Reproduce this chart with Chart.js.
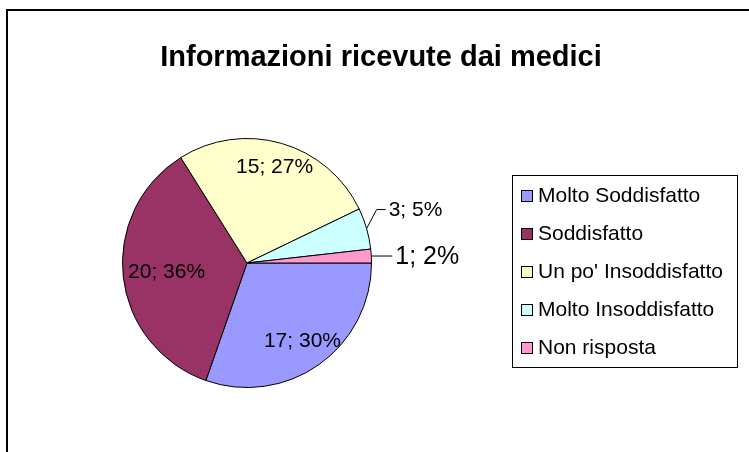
<!DOCTYPE html>
<html>
<head>
<meta charset="utf-8">
<script src="https://cdn.jsdelivr.net/npm/chart.js@4/dist/chart.umd.min.js"></script>
<style>
  html, body { margin: 0; padding: 0; background: #fff; }
  #wrap { position: relative; width: 749px; height: 452px; overflow: hidden; }
  #frame { position: absolute; left: 6px; top: 9px; width: 800px; height: 500px; border: 2px solid #000; box-sizing: border-box; }
  canvas { position: absolute; left: 0; top: 0; }
</style>
</head>
<body>
<div id="wrap">
  <div id="frame"></div>
  <canvas id="chart" width="749" height="452"></canvas>
</div>
<script>
// data
const title = 'Informazioni ricevute dai medici';
const categories = ['Molto Soddisfatto', 'Soddisfatto', "Un po' Insoddisfatto", 'Molto Insoddisfatto', 'Non risposta'];
const counts = [17, 20, 15, 3, 1];

// styles
const colors = ['#9999FF', '#993366', '#FFFFCC', '#CCFFFF', '#FF99CC'];
const labelSizes = [21, 21, 21, 21, 25];
const labelRadius = [0.77, 0.65, 0.8, 0, 0]; // 0 = outside label with leader line
const outsideLift = [0, 0, 0, 19, 0];
const FONT = '"Liberation Sans", Arial, sans-serif';

const total = counts.reduce((a, b) => a + b, 0);
const labelText = (v) => v + '; ' + Math.round(v / total * 100) + '%';

const decorations = {
  id: 'decorations',
  afterDatasetsDraw(chart) {
    const ctx = chart.ctx;
    const arcs = chart.getDatasetMeta(0).data;
    ctx.save();
    ctx.fillStyle = '#000';
    ctx.strokeStyle = '#000';
    ctx.lineWidth = 1;

    // slice labels
    arcs.forEach((arc, i) => {
      const { x, y, startAngle, endAngle, outerRadius } = arc.getProps(['x', 'y', 'startAngle', 'endAngle', 'outerRadius'], true);
      const mid = (startAngle + endAngle) / 2;
      const txt = labelText(counts[i]);
      ctx.font = labelSizes[i] + 'px ' + FONT;
      if (labelRadius[i] > 0) {
        const r = outerRadius * labelRadius[i];
        ctx.textAlign = 'center';
        ctx.textBaseline = 'middle';
        ctx.fillText(txt, x + Math.cos(mid) * r, y + Math.sin(mid) * r);
      } else {
        const sx = x + Math.cos(mid) * outerRadius;
        const sy = y + Math.sin(mid) * outerRadius;
        const lift = outsideLift[i];
        const ex = lift ? sx + 10 : sx;
        const ey = sy - lift;
        const tx = lift ? ex + 9 : sx + 21;
        ctx.beginPath();
        ctx.moveTo(sx, sy);
        ctx.lineTo(ex, ey);
        ctx.lineTo(tx, ey);
        ctx.stroke();
        ctx.textAlign = 'left';
        ctx.textBaseline = 'middle';
        ctx.fillText(txt, tx + 3, ey + 1);
      }
    });

    // title
    ctx.font = 'bold 29px ' + FONT;
    ctx.textAlign = 'center';
    ctx.textBaseline = 'alphabetic';
    ctx.fillText(title, 381, 66);

    // legend
    ctx.strokeRect(512.5, 175.5, 225, 192);
    ctx.font = '21px ' + FONT;
    ctx.textAlign = 'left';
    ctx.textBaseline = 'middle';
    categories.forEach((name, i) => {
      const cy = 196 + i * 38;
      ctx.fillStyle = colors[i];
      ctx.fillRect(521.5, cy - 5.5, 11, 11);
      ctx.strokeRect(521.5, cy - 5.5, 11, 11);
      ctx.fillStyle = '#000';
      ctx.fillText(name, 538, cy);
    });
    ctx.restore();
  }
};

new Chart(document.getElementById('chart'), {
  type: 'pie',
  data: {
    labels: categories,
    datasets: [{
      data: counts,
      backgroundColor: colors,
      borderColor: '#000',
      borderWidth: 1
    }]
  },
  options: {
    responsive: false,
    animation: false,
    rotation: 90,
    layout: { padding: { left: 122, right: 377, top: 138, bottom: 64 } },
    plugins: {
      legend: { display: false },
      title: { display: false },
      tooltip: { enabled: false }
    }
  },
  plugins: [decorations]
});
</script>
</body>
</html>
